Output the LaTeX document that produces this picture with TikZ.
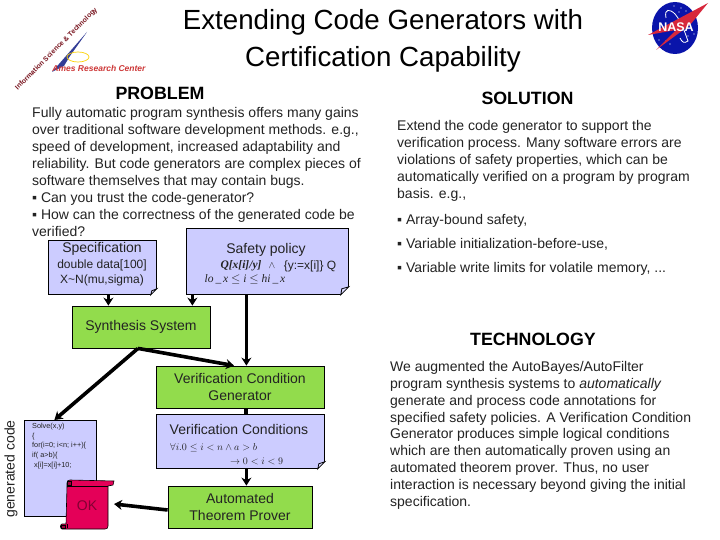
\documentclass[tikz,border=0pt]{standalone}
\usepackage{fontspec}
\setmainfont{Liberation Sans}
\newfontfamily\serifbf{Liberation Serif}
\usetikzlibrary{arrows.meta}
\definecolor{boxblue}{RGB}{204,204,255}
\definecolor{boxgreen}{RGB}{146,220,76}
\definecolor{scrollred}{RGB}{228,0,88}
\definecolor{inktext}{RGB}{35,35,35}
\definecolor{nasablue}{RGB}{10,20,170}
\definecolor{nasared}{RGB}{215,40,60}
\definecolor{amesred}{RGB}{205,55,55}
\definecolor{amesblue}{RGB}{50,60,150}
\definecolor{banddark}{RGB}{120,20,30}
\tikzset{
  body/.style={anchor=north west,align=left,inner sep=0pt,text=inktext,font=\fontsize{14}{16.9}\selectfont},
  head/.style={inner sep=0pt,font=\fontsize{17.8}{20}\selectfont\bfseries,text=black},
  notebox/.style={draw=black,line width=.8pt,fill=boxblue,inner sep=0pt,anchor=north west,text=inktext},
  procbox/.style={draw=black,line width=.8pt,fill=boxgreen,inner sep=0pt,align=center,text=inktext,font=\fontsize{14}{17}\selectfont},
  flow/.style={line width=3.6pt,-{Stealth[length=8pt,width=10pt]},black},
  flowplain/.style={line width=3.6pt,black},
  lbl/.style={inner sep=0pt,align=center,text=inktext}
}
\newcommand{\foldc}[2]{%
  \fill[white] ([xshift=-#2pt]#1.south east) -- (#1.south east) -- ([yshift=#2pt]#1.south east) -- cycle;
  \draw[line width=.8pt,fill=boxblue!70!white] ([xshift=-#2pt]#1.south east) -- ([yshift=#2pt]#1.south east) -- ([xshift=-#2pt+1pt,yshift=#2pt-2pt]#1.south east) -- cycle;
}
\begin{document}
\begin{tikzpicture}[x=1pt,y=-1pt]
\useasboundingbox (0,0) rectangle (720,540);
\fill[white] (0,0) rectangle (720,540);
% title
\node[lbl,text=black,font=\fontsize{27.7}{37}\selectfont] (title) at (383,41) {Extending Code Generators with\\Certification Capability};
\node[head] (problem) at (160,93) {PROBLEM};
\node[head] (solution) at (527.5,98.5) {SOLUTION};
\node[head] (technology) at (533,339) {TECHNOLOGY};
% problem text
\node[body] (ptext) at (32,107.5) {Fully automatic program synthesis offers many gains\\
over traditional software development methods. e.g.,\\
speed of development, increased adaptability and\\
reliability. But code generators are complex pieces of\\
software themselves that may contain bugs.\\
▪ Can you trust the code-generator?\\
▪ How can the correctness of the generated code be\\
verified?};
% solution text
\node[body] (stext) at (397,120.5) {Extend the code generator to support the\\
verification process. Many software errors are\\
violations of safety properties, which can be\\
automatically verified on a program by program\\
basis. e.g.,};
\node[body] (s1) at (397,214) {▪ Array-bound safety,};
\node[body] (s2) at (397,238.5) {▪ Variable initialization-before-use,};
\node[body] (s3) at (397,262) {▪ Variable write limits for volatile memory, ...};
% technology text
\node[body] (ttext) at (390,361) {We augmented the AutoBayes/AutoFilter\\
program synthesis systems to \textit{automatically}\\
generate and process code annotations for\\
specified safety policies. A Verification Condition\\
Generator produces simple logical conditions\\
which are then automatically proven using an\\
automated theorem prover. Thus, no user\\
interaction is necessary beyond giving the initial\\
specification.};
% boxes
\node[notebox,minimum width=108pt,minimum height=54pt] (spec) at (48,240) {};
\foldc{spec}{6}
\node[lbl,font=\fontsize{14}{17}\selectfont] (spect) at (102,249) {Specification};
\node[lbl,font=\fontsize{12}{15.5}\selectfont] (specb) at (102,273) {double data[100]\\X\textasciitilde N(mu,sigma)};
\node[notebox,minimum width=162pt,minimum height=66pt] (safety) at (186,228) {};
\foldc{safety}{8}
\node[lbl,font=\fontsize{14}{17}\selectfont] (safetyt) at (266,250) {Safety policy};
\node[lbl,font=\fontsize{12}{14}\selectfont] (safetya) at (310,266) {\{y:=x[i]\} Q};
\node[lbl,font=\serifbf\fontsize{11.5}{14}\selectfont\bfseries\itshape] (safetyb) at (241,266) {Q[x[i]/y]};
\node[lbl] (safetyw) at (272,266) {$\wedge$};
\node[lbl,font=\serifbf\fontsize{11.5}{14}\selectfont\itshape] (safetyc) at (245,279) {lo\,\_\,x $\leq$ i $\leq$ hi\,\_\,x};
\node[procbox,minimum width=138pt,minimum height=42pt] (synth) at (141,327) {Synthesis System};
\node[procbox,minimum width=168pt,minimum height=42pt] (vcg) at (240,387) {Verification Condition\\Generator};
\node[notebox,minimum width=168pt,minimum height=54pt] (vc) at (156,414) {};
\foldc{vc}{7}
\node[lbl,font=\fontsize{14}{17}\selectfont] (vct) at (239,429) {Verification Conditions};
\node[lbl,anchor=west,text=inktext] (vca) at (170,448) {$\forall i.0\leq i<n\wedge a>b$};
\node[lbl,anchor=west,text=inktext] (vcb) at (230,461) {$\rightarrow 0<i<9$};
\node[procbox,minimum width=144pt,minimum height=42pt] (atp) at (240,507) {Automated\\Theorem Prover};
% generated code
\node[notebox,minimum width=72pt,minimum height=96pt] (code) at (24,420) {};
\node[lbl,anchor=north west,align=left,font=\fontsize{7.3}{9.7}\selectfont] (codet) at (32,423) {Solve(x,y)\\\{\\for(i=0; i<n; i++)\{\\if( a>b)\{\\\ x[i]=x[i]+10;};
\node[lbl,rotate=90,font=\fontsize{14}{17}\selectfont] (gen) at (11,469) {generated code};
% scroll
\path[fill=scrollred,draw=black,line width=.6pt] (66,524) -- (67,486) -- (67,483) .. controls (67,481) and (68,480) .. (70,480) -- (114,481) -- (113,485) -- (108,486) -- (108,526) .. controls (108,528) and (107,529) .. (105,529) -- (62,529) .. controls (60,529) and (60,524) .. (62,524) -- cycle;
\draw[line width=.6pt,black] (67,486) -- (108,486);
\draw[line width=.6pt,black] (67,524) -- (67,528);
\draw[line width=.5pt,black,fill=scrollred!70!black] (67.5,481.5) rectangle (71,485);
\draw[line width=.5pt,black,fill=scrollred!70!black] (61,525) rectangle (65,528);
\node[lbl,text={rgb,255:red,130;green,0;blue,50},font=\fontsize{14}{17}\selectfont] (ok) at (87,506) {OK};
% logo Ames
\path[fill=amesblue] (87,32) -- (52,72) -- (64,66) -- (70,56) -- cycle;
\draw[yellow!70!orange,line width=.7pt] (78,57) ellipse (11pt and 5pt);
\node[inner sep=0pt,text=amesred,font=\fontsize{8.5}{10}\selectfont\bfseries\itshape] (ames) at (99,68) {Ames Research Center};
\node[inner sep=0pt,rotate=45,text=banddark,font=\fontsize{6.9}{10}\selectfont\bfseries] (info) at (56.5,49) {Information Science \& Technology};
% logo NASA
\fill[nasablue] (675,28) ellipse (23pt and 26pt);
\foreach \sx/\sy in {674/6,681/8,679/12,686/11,670/44,666/41,688/36,694/34,659/40,684/22}
  \fill[white] (\sx,\sy) circle (.7pt);
\draw[white,line width=.8pt] (666,18) .. controls (664,8) and (670,9) .. (675,14) .. controls (682,22) and (686,36) .. (688,41) .. controls (684,44) and (682,42) .. (680,38);
\path[fill=nasared] (648,35) -- (708,3) -- (690,25) -- (656,50) -- (676,30) -- cycle;
\node[inner sep=0pt,text=white,font=\fontsize{12.5}{14}\selectfont\bfseries] (nasa) at (676,27) {NASA};
% connectors
\draw[flow] ([xshift=6pt]spec.south) -- ([xshift=6pt]spec.south |- synth.north);
\draw[flow] ([xshift=-75pt]safety.south) -- ([xshift=-75pt]safety.south |- synth.north);
\draw[flow] ([xshift=-21pt]safety.south) -- ([xshift=-21pt]safety.south |- vcg.north);
\draw[flow] ([xshift=-3pt]synth.south) -- ([xshift=-6pt]vcg.north);
\draw[flow] ([xshift=-3pt]synth.south) -- ([xshift=-6pt]code.north);
\draw[flowplain] ([xshift=6pt]vcg.south) -- ([xshift=6pt]vcg.south |- vc.north);
\draw[flow] ([xshift=6pt]vc.south) -- ([xshift=6pt]vc.south |- atp.north);
\draw[flow] ([yshift=-3pt]atp.west) -- (114,504);
\end{tikzpicture}
\end{document}
